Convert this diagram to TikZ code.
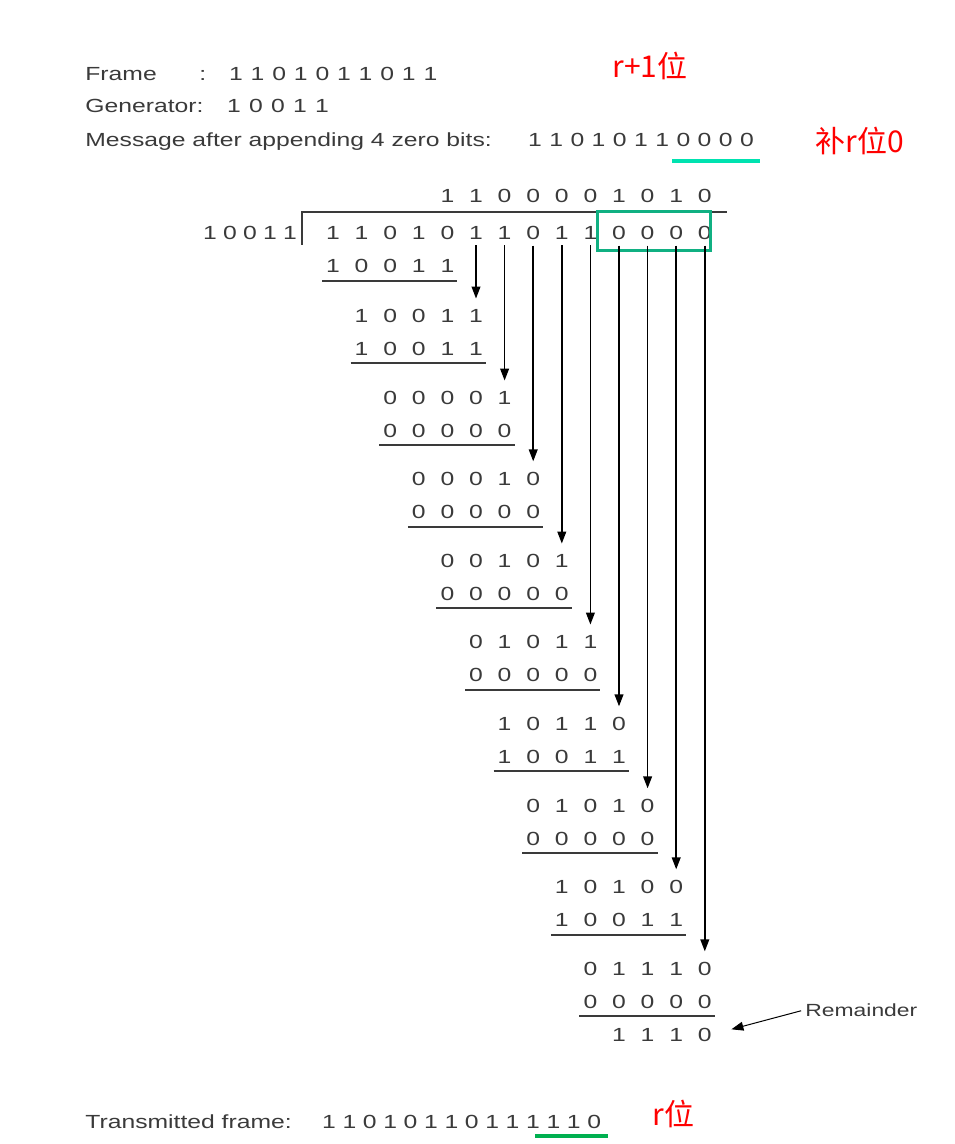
\documentclass[tikz,border=0pt]{standalone}
\usepackage{fontspec}
\setmainfont{Liberation Sans}[FakeStretch=1.3]
\newfontfamily\cjk{Noto Sans CJK SC}
\usetikzlibrary{arrows.meta}
\definecolor{txt}{RGB}{58,58,58}
\definecolor{boxc}{RGB}{16,176,130}
\definecolor{topline}{RGB}{0,226,176}
\definecolor{botline}{RGB}{0,176,80}
\newcommand\bitrow[4]{%
  \foreach \b [count=\j from #2] in {#4} \node[dig] (#1-\j) at (333+28.6*\j,#3) {\b};}
\begin{document}
\begin{tikzpicture}[x=0.5pt,y=-0.5pt,
  dig/.style={inner sep=0pt,anchor=base,text=txt,font=\fontsize{9.5}{11}\selectfont},
  lbl/.style={inner sep=0pt,anchor=base west,text=txt,font=\fontsize{9.5}{11}\selectfont},
  redtxt/.style={inner sep=0pt,anchor=base west,text=red,font=\cjk\fontsize{15}{18}\selectfont},
  uline/.style={draw=txt,line width=0.6pt},
  arr/.style={draw=black,line width=0.75pt,-{Triangle[length=6pt,width=4.4pt]}},
]
\useasboundingbox (0,0) rectangle (954,1144);

% header
\node[lbl] (frame) at (85,81) {Frame};
\node[lbl] (colon) at (199,81) {:};
\foreach \b [count=\i from 0] in {1,1,0,1,0,1,1,0,1,1}
  \node[dig] (f-\i) at (236+21.6*\i,81) {\b};
\node[lbl] (gen) at (85,113) {Generator:};
\foreach \b [count=\i from 0] in {1,0,0,1,1}
  \node[dig] (g-\i) at (234+22*\i,113) {\b};
\node[lbl] (msg) at (85,147) {Message after appending 4 zero bits:};
\foreach \b [count=\i from 0] in {1,1,0,1,0,1,1,0,0,0,0}
  \node[dig] (m-\i) at (535+21.2*\i,147) {\b};
\draw[topline,line width=2pt] (672,161) -- (760,161);
\node[redtxt] (rplus) at (612,78) {r+1位};
\node[redtxt] (bu) at (815,153) {补r位0};

% division
\foreach \b [count=\i from 0] in {1,0,0,1,1}
  \node[dig] (v-\i) at (210+20*\i,240) {\b};
\draw[uline,line width=0.8pt] (302,245) -- (302,212) -- (727,212);
\bitrow{q}{4}{203}{1,1,0,0,0,0,1,0,1,0}
\bitrow{d}{0}{240}{1,1,0,1,0,1,1,0,1,1,0,0,0,0}
\draw[boxc,line width=1.5pt] (597,212) rectangle (710,251);

\bitrow{b0}{0}{273}{1,0,0,1,1}
\bitrow{a1}{1}{322}{1,0,0,1,1}
\bitrow{b1}{1}{355}{1,0,0,1,1}
\bitrow{a2}{2}{404}{0,0,0,0,1}
\bitrow{b2}{2}{437}{0,0,0,0,0}
\bitrow{a3}{3}{485}{0,0,0,1,0}
\bitrow{b3}{3}{518}{0,0,0,0,0}
\bitrow{a4}{4}{567}{0,0,1,0,1}
\bitrow{b4}{4}{600}{0,0,0,0,0}
\bitrow{a5}{5}{648}{0,1,0,1,1}
\bitrow{b5}{5}{681}{0,0,0,0,0}
\bitrow{a6}{6}{730}{1,0,1,1,0}
\bitrow{b6}{6}{763}{1,0,0,1,1}
\bitrow{a7}{7}{812}{0,1,0,1,0}
\bitrow{b7}{7}{845}{0,0,0,0,0}
\bitrow{a8}{8}{893}{1,0,1,0,0}
\bitrow{b8}{8}{926}{1,0,0,1,1}
\bitrow{a9}{9}{975}{0,1,1,1,0}
\bitrow{b9}{9}{1008}{0,0,0,0,0}
\bitrow{rem}{10}{1041}{1,1,1,0}

% underlines
\foreach \k/\y in {0/281,1/363,2/445,3/527,4/608,5/690,6/771,7/853,8/935,9/1016}
  \draw[uline] (333+28.6*\k-11,\y) -- (333+28.6*\k+28.6*4+10,\y);

% arrows
\foreach \k in {1,...,9}{
  \pgfmathtruncatemacro\c{\k+4}
  \draw[arr,shorten <=2.5pt,shorten >=5pt] (d-\c.south) -- (a\k-\c.north);
}

% remainder
\node[lbl,font=\fontsize{8.8}{10}\selectfont] (remlbl) at (805,1016) {Remainder};
\draw[arr,line width=0.5pt,shorten <=2pt,shorten >=10pt] (remlbl.west) -- (rem-13.east);

% transmitted
\node[lbl] (tx) at (85,1128) {Transmitted frame:};
\foreach \b [count=\i from 0] in {1,1,0,1,0,1,1,0,1,1,1,1,1,0}
  \node[dig] (t-\i) at (329+20.4*\i,1128) {\b};
\draw[botline,line width=2pt] (535,1136) -- (608,1136);
\node[redtxt] (rw) at (652,1125) {r位};
\end{tikzpicture}
\end{document}
